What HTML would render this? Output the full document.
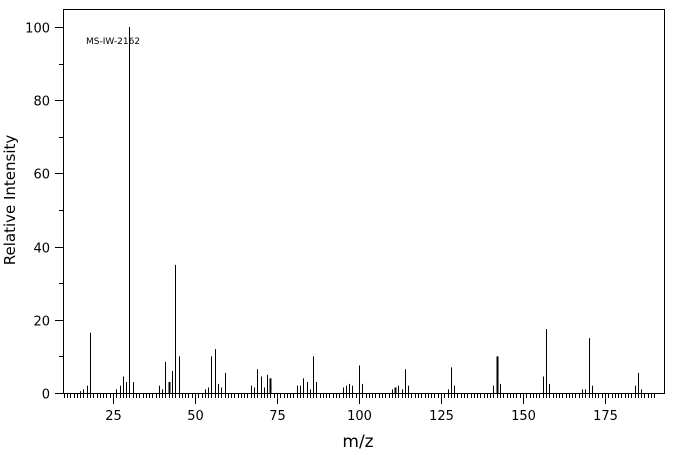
<!DOCTYPE html>
<html><head><meta charset="utf-8"><style>
html,body{margin:0;padding:0;background:#fff;}
svg{display:block;}
text{font-family:"DejaVu Sans","Liberation Sans",sans-serif;fill:#000;}
</style></head><body>
<svg id="s" width="676" height="455" viewBox="0 0 676 455" xmlns="http://www.w3.org/2000/svg">
<rect x="63.5" y="9.5" width="601" height="384" fill="none" stroke="#000" stroke-width="1"/>
<text x="86" y="44" font-size="9" font-family="Liberation Mono, monospace">MS-IW-2162</text>
<text x="358" y="447" font-size="17" text-anchor="middle">m/z</text>
<text transform="translate(15,200) rotate(-90)" font-size="15" text-anchor="middle">Relative Intensity</text>
<g id="g" stroke="#000" stroke-width="1"></g>
<g id="t" font-size="13"></g>
</svg>
<script>
var g=document.getElementById('g'),t=document.getElementById('t'),NS='http://www.w3.org/2000/svg';
function L(x1,y1,x2,y2,w){var l=document.createElementNS(NS,'line');l.setAttribute('x1',x1);l.setAttribute('y1',y1);l.setAttribute('x2',x2);l.setAttribute('y2',y2);if(w)l.setAttribute('stroke-width',w);g.appendChild(l);}
function T(x,y,s,a){var e=document.createElementNS(NS,'text');e.setAttribute('x',x);e.setAttribute('y',y);e.setAttribute('text-anchor',a);e.textContent=s;t.appendChild(e);}
function X(m){return 31+m*3.28;}
function Y(v){return 393-v*3.66;}
for(var v=0;v<=100;v+=10){var y=Math.round(Y(v))+0.5;L(v%20==0?55:59,y,63,y);if(v%20==0)T(50,y+5,String(v),'end');}
for(var m=10;m<=190;m++){var x=Math.round(X(m))+0.5;L(x,393,x,m%25==0?404:398);if(m%25==0)T(x,420,String(m),'middle');}
var p=[[15,.5],[16,1],[17,2],[18,16.5],[26,1],[27,2],[28,4.5],[29,3],[30,100],[31,3],[39,2],[40,1],[41,8.5],[42,3,2],[43,6],[44,35],[45,10],[53,1],[54,1.5],[55,10],[56,12],[57,2.5],[58,1.5],[59,5.5],[67,2],[68,1.5],[69,6.5],[70,4.5],[71,1.5],[72,5],[73,4,2],[81,2],[82,2],[83,4],[84,3],[85,1],[86,10],[87,3],[95,1.5],[96,2],[97,2.5],[98,2],[100,7.5],[101,2.5],[110,1],[111,1.5,2],[112,2],[113,1],[114,6.5],[115,2],[127,1],[128,7],[129,2],[141,2],[142,10,2],[143,2.5],[156,4.5],[157,17.5],[158,2.5],[168,1],[169,1],[170,15],[171,2],[184,2],[185,5.5],[186,1]];
p.forEach(function(q){var x=Math.round(X(q[0]))+0.5;L(x,393,x,Y(q[1]),q[2]);});
</script>
</body></html>
